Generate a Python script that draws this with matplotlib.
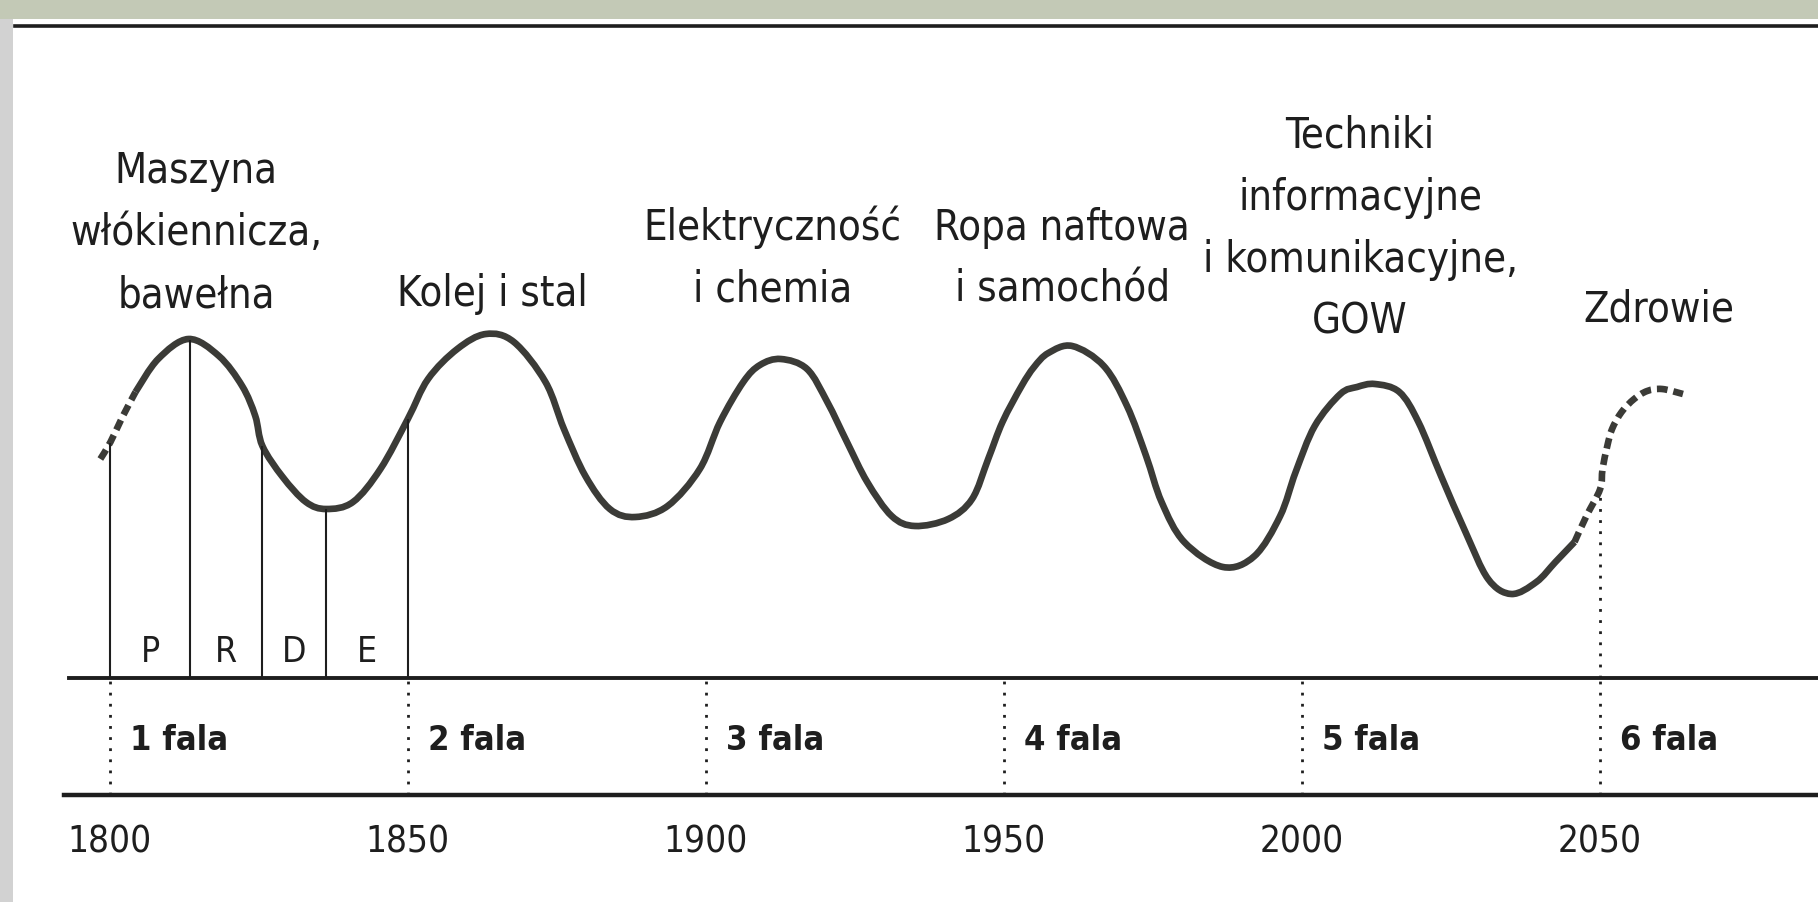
import numpy as np
import matplotlib
matplotlib.use('Agg')
import matplotlib.pyplot as plt
from matplotlib import font_manager
from matplotlib.patches import Rectangle, PathPatch
from matplotlib.path import Path

# ---- data (level = height above the time axis) ----
lead_years = [1798.4, 1800.1, 1802.1, 1804.3]
lead_level = [219, 236, 261, 286]

wave_years = [1804.3, 1808.1, 1813.2, 1818.3, 1822.2, 1824.4, 1825.6, 1829.0, 1832.9, 1836.3,
              1840.8, 1845.4, 1850.0, 1853.4, 1858.3, 1863.1, 1867.8, 1873.1, 1876.2,
              1879.8, 1883.9, 1888.2, 1893.6, 1899.0, 1902.4, 1906.3, 1909.1, 1912.6, 1917.0,
              1920.4, 1923.7, 1927.1, 1931.2, 1935.1, 1940.7, 1944.7, 1947.4, 1949.8, 1953.0,
              1955.1, 1957.5, 1961.5, 1966.8, 1970.7, 1973.9, 1976.5, 1980.3, 1986.8, 1992.1,
              1996.4, 1999.0, 2002.2, 2006.5, 2009.3, 2012.3, 2016.4, 2019.6, 2023.4, 2027.5,
              2031.3, 2035.2, 2039.4, 2042.6, 2045.8]
wave_level = [286, 319, 339, 322, 292, 262, 232, 201, 176, 169,
              176, 209, 259, 299, 329, 344, 336, 296, 249,
              202, 169, 161, 172, 209, 256, 296, 313, 319, 309,
              276, 236, 196, 162, 152, 159, 179, 219, 256, 292,
              311, 325, 332, 312, 272, 222, 176, 136, 111, 122,
              162, 206, 252, 284, 291, 294, 286, 256, 202, 146,
              99, 84, 96, 116, 136]

tail_years = [2045.8, 2047.8, 2050.1, 2050.5, 2051.3, 2052.1, 2053.7, 2055.8, 2058.0, 2060.5, 2064.0]
tail_level = [136, 162, 189, 209, 232, 249, 266, 279, 287, 289, 284]

phase_years = [1800, 1813.5, 1825.6, 1836.2, 1850]
phase_names = ['P', 'R', 'D', 'E']

wave_starts = [1800, 1850, 1900, 1950, 2000, 2050]
wave_names = ['1 fala', '2 fala', '3 fala', '4 fala', '5 fala', '6 fala']

tech_names = [['Maszyna', 'włókiennicza,', 'bawełna'],
              ['Kolej i stal'],
              ['Elektryczność', 'i chemia'],
              ['Ropa naftowa', 'i samochód'],
              ['Techniki', 'informacyjne', 'i komunikacyjne,', 'GOW'],
              ['Zdrowie']]

# ---- font: the original uses a condensed grotesque, take a narrow face if there is one ----
FONT, STRETCH = None, 'normal'
for f in font_manager.fontManager.ttflist:
    if ('Narrow' in f.name or 'Condensed' in f.name or 'condensed' in str(f.stretch)) \
            and f.weight in (400, 'normal', 'regular') and f.style == 'normal':
        FONT, STRETCH = f.name, f.stretch
        break
if FONT is None:
    names = {f.name for f in font_manager.fontManager.ttflist}
    FONT = 'Roboto' if 'Roboto' in names else 'DejaVu Sans'
plt.rcParams['font.family'] = [FONT, 'DejaVu Sans']
plt.rcParams['font.stretch'] = STRETCH

ink = '#1e1e1e'
curve_c = '#3b3b37'

fig = plt.figure(figsize=(18.18, 9.03), dpi=100)
fig.patch.set_facecolor('white')
renderer = fig.canvas.get_renderer()


def fit_size(s, target_px, **kw):
    t = fig.text(0, 0, s, fontsize=30, **kw)
    w = t.get_window_extent(renderer=renderer).width
    t.remove()
    return 30 * target_px / w


tech_fs = fit_size('i komunikacyjne,', 315)
year_fs = fit_size('1800', 84)
fala_fs = fit_size('1 fala', 98, fontweight='bold')
phase_fs = tech_fs * 0.85

# scanned page edges
fig.add_artist(Rectangle((0, 0.978), 1, 0.022, transform=fig.transFigure, color='#c3c9b6', lw=0))
fig.add_artist(Rectangle((0, 0), 0.007, 0.978, transform=fig.transFigure, color='#d2d2d2', lw=0))

ax = fig.add_axes([0, 0, 1, 1])
ax.set_xlim(1781.56, 2086.66)
ax.set_ylim(-224, 679)
ax.axis('off')

# frame lines
ax.axhline(652, xmin=0.008, xmax=1, color=ink, lw=2.6)
ax.axhline(0, xmin=0.038, xmax=1, color=ink, lw=2.8)
ax.axhline(-117, xmin=0.035, xmax=1, color=ink, lw=3.2)


def smooth_path(xs, ys):
    # Catmull-Rom through the read points, drawn as cubic Bezier segments
    p = np.column_stack([xs, ys]).astype(float)
    ext = np.vstack([p[0], p, p[-1]])
    verts, codes = [p[0]], [Path.MOVETO]
    for i in range(1, len(ext) - 2):
        c1 = ext[i] + (ext[i + 1] - ext[i - 1]) / 6
        c2 = ext[i + 1] - (ext[i + 2] - ext[i]) / 6
        verts += [c1, c2, ext[i + 1]]
        codes += [Path.CURVE4] * 3
    return Path(verts, codes)


lw = 4.8
dash = (0, (1.6, 0.9))
ax.add_patch(PathPatch(smooth_path(lead_years, lead_level), fill=False, ec=curve_c, lw=lw,
                       ls=dash, capstyle='butt'))
ax.add_patch(PathPatch(smooth_path(wave_years, wave_level), fill=False, ec=curve_c, lw=lw,
                       joinstyle='round', capstyle='butt'))
ax.add_patch(PathPatch(smooth_path(tail_years, tail_level), fill=False, ec=curve_c, lw=lw,
                       ls=dash, capstyle='butt'))

all_years = np.array(lead_years + wave_years + tail_years)
all_level = np.array(lead_level + wave_level + tail_level)

# phases of the first wave
tops = np.interp(phase_years, all_years, all_level)
ax.vlines(phase_years, 0, tops, color=ink, lw=1.5)
for i, name in enumerate(phase_names):
    mid = (phase_years[i] + phase_years[i + 1]) / 2
    ax.text(mid, 17, name, ha='center', va='baseline', fontsize=phase_fs, color=ink)

# wave boundaries
ax.vlines(wave_starts, -117, -3, color=ink, lw=2, linestyles=(0, (1, 3)))
top_2050 = np.interp(2050, all_years, all_level)
ax.vlines([2050], 0, top_2050, color=ink, lw=2, linestyles=(0, (1, 3)))

for yr, name in zip(wave_starts, wave_names):
    ax.text(yr, -174, str(yr), ha='center', va='baseline', fontsize=year_fs, color=ink)
    ax.text(yr + 3.4, -71, name, ha='left', va='baseline', fontsize=fala_fs,
            fontweight='bold', color=ink)

# technology labels
label_x = [1814.5, 1864.2, 1911.2, 1959.8, 2009.8, 2060.0]
label_base = [372, 373, 377, 377, 345, 357]
for lines, x, base in zip(tech_names, label_x, label_base):
    for k, line in enumerate(reversed(lines)):
        ax.text(x, base + 62 * k, line, ha='center', va='baseline', fontsize=tech_fs, color=ink)

plt.savefig('out.png', dpi=100)
